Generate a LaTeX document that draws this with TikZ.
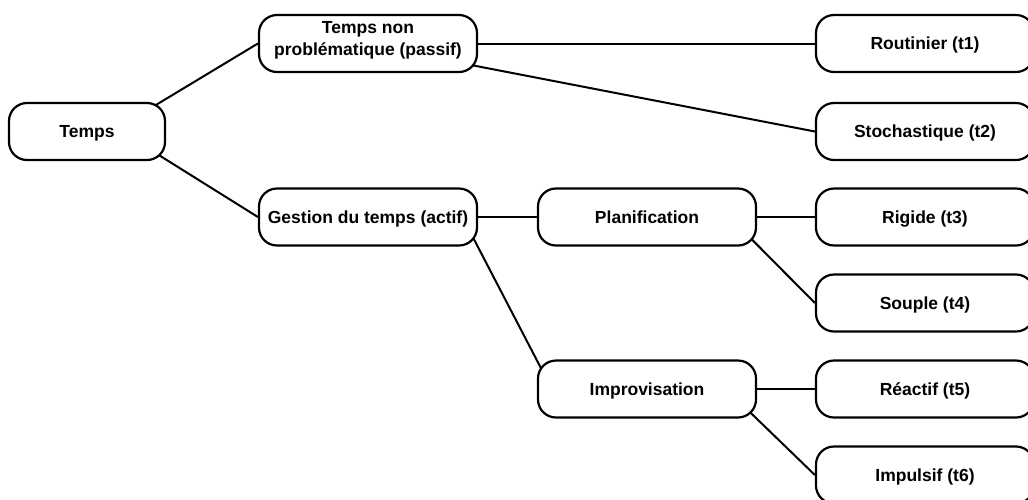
\documentclass[tikz,border=0pt]{standalone}
\usepackage{fontspec}
\setmainfont{Liberation Sans}
\usetikzlibrary{calc,backgrounds}
\begin{document}
\begin{tikzpicture}[x=1pt,y=-1pt,
  box/.style={draw,line width=2.2pt,rounded corners=18pt,fill=white,minimum height=57pt,minimum width=218pt,inner sep=0pt,align=center,font=\fontsize{17.5}{22}\selectfont\bfseries,text height=12.4pt,text depth=0pt},
  conn/.style={line width=2pt}]
\useasboundingbox (0,0) rectangle (1028,499);
\clip (0,0) rectangle (1028,499);
\node[box,minimum width=156pt] (temps) at (87,131.5) {Temps};
\node[box,text height=22.9pt,text depth=21.1pt] (tnp) at (368,43.5) {\begin{tabular}{@{}c@{}}Temps non\\probl\'ematique (passif)\end{tabular}};
\node[box] (gest) at (368,217) {Gestion du temps (actif)};
\node[box] (plan) at (647,217) {Planification};
\node[box] (impr) at (647,389) {Improvisation};
\node[box] (rout) at (925,43.5) {Routinier (t1)};
\node[box] (stoc) at (925,131.5) {Stochastique (t2)};
\node[box] (rigi) at (925,217) {Rigide (t3)};
\node[box] (soup) at (925,303) {Souple (t4)};
\node[box] (reac) at (925,389) {R\'eactif (t5)};
\node[box] (impu) at (925,475) {Impulsif (t6)};
\begin{scope}[on background layer]
\draw[conn] ($(temps.north east)+(-20,9)$) -- (tnp.west);
\draw[conn] ($(temps.south east)+(-20,-14)$) -- (gest.west);
\draw[conn] (tnp.east) -- (rout.west);
\draw[conn] ($(tnp.south east)+(-17,-10)$) -- (stoc.west);
\draw[conn] (gest.east) -- (plan.west);
\draw[conn] ($(gest.south east)+(-7.6,-14)$) -- ($(impr.north west)+(7.3,15)$);
\draw[conn] (plan.east) -- (rigi.west);
\draw[conn] ($(plan.south east)+(-16,-18)$) -- (soup.west);
\draw[conn] (impr.east) -- (reac.west);
\draw[conn] ($(impr.south east)+(-16,-15)$) -- (impu.west);
\end{scope}
\end{tikzpicture}
\end{document}
